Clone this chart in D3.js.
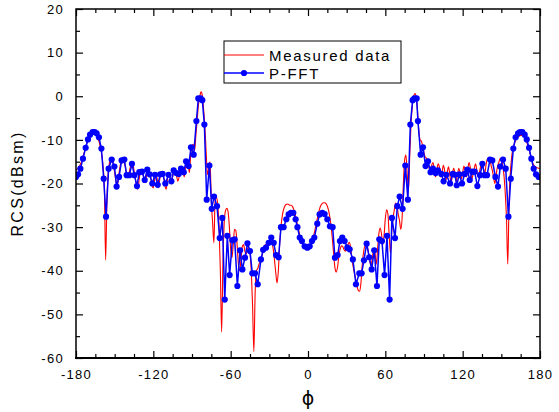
<!DOCTYPE html>
<html>
<head>
<meta charset="utf-8">
<script src="https://cdn.jsdelivr.net/npm/d3@7"></script>
<style>
  body { margin: 0; background: #fff; }
  svg { display: block; font-family: "Liberation Sans", Arial, sans-serif; }
</style>
</head>
<body>
<div id="chart"></div>
<script>
// measured data, 1 degree steps from -180 to 180
var measuredPhi = d3.range(-180, 181, 1);
var measuredRcs = [
  -16.8,-16.7,-16.4,-15.9,-15.2,-14.3,-13.3,-12.2,-11.1,-10.2,
  -9.5,-8.9,-8.5,-8.3,-8.3,-8.5,-8.9,-9.6,-10.5,-11.8,
  -13.5,-16,-21,-37.5,-24,-17.5,-15.2,-14.2,-14.4,-15.8,
  -17.5,-19.5,-20.5,-18.5,-16.4,-15,-14.5,-14.8,-15.8,-17.5,
  -18.6,-17.8,-16.4,-15.2,-15.4,-17,-18.8,-20.5,-21.3,-19,
  -17.2,-16.8,-17.6,-19.5,-19.8,-17.6,-16.5,-17.3,-18.6,-20.5,
  -21,-19,-17.6,-19,-21,-19,-17.4,-17.5,-18.6,-20.5,
  -21.3,-19,-17.5,-18.5,-20,-18.5,-17,-17.2,-18.2,-19.5,
  -18.5,-17,-16.2,-17,-18.5,-16,-14.5,-15.5,-17.5,-13.5,
  -11.4,-11,-12.5,-9,-5.5,-2,-0.2,1.0,0.2,-3,
  -7,-13,-18,-16.5,-15,-24,-29,-33.6,-23,-23.2,
  -25,-30,-40,-54,-38,-29,-26.2,-25.7,-26.5,-30,
  -35,-37,-34,-30.5,-30.8,-34,-38.5,-40,-37.5,-34.5,
  -34,-35.5,-36.2,-35,-34.5,-36,-40,-48,-58.5,-45,
  -40,-39.5,-38.5,-37.8,-36.8,-35.8,-34.6,-34,-34,-34,
  -33.5,-33,-33.5,-35,-37.5,-40.5,-42.8,-40,-34,-30,
  -27.5,-26,-25.2,-24.8,-24.7,-24.8,-25,-25,-25.3,-26,
  -27,-28.3,-29.8,-31,-32.3,-33.2,-33.8,-34.2,-34.3,-34.3,
  -34.2,
  -34.1,-33.8,-33.2,-32.3,-31.2,-29.8,-28.3,-27,-25.8,-25,
  -24.6,-24.4,-24.4,-24.6,-25.2,-26.2,-27.8,-30,-33,-36.5,
  -39.5,-40.3,-39,-36.5,-35,-34.3,-34.5,-35.2,-35.5,-35,
  -34,-33.5,-34.5,-37,-39,-40.5,-42,-43.5,-44.5,-44.7,
  -43,-39,-36,-34.5,-34.3,-34.5,-36,-38,-38.5,-37,
  -35,-36,-38.5,-35,-31.5,-30.2,-31.5,-34,-32,-28,
  -26,-27,-32,-36,-31,-28,-26,-24.5,-25,-27,
  -28.5,-30.5,-28,-20,-14.5,-13.5,-18,-21.5,-13,-6,
  -2,0,0.6,-0.3,-3.5,-8,-10,-10.3,-11.5,-13,
  -14,-14.2,-15,-16.5,-17.5,-15.8,-15.2,-17,-18.5,-16.8,
  -15.5,-16.3,-18.5,-17.5,-15.8,-17,-19.2,-17.5,-16.2,-17.8,
  -20,-18,-16.5,-17.5,-19.5,-18,-16.5,-17.5,-19,-17.5,
  -16,-17,-18.5,-16.5,-15.2,-16.5,-19,-18,-16.5,-15.5,
  -17,-18.5,-17.5,-16,-15.5,-16.5,-18,-16,-14.5,-14.2,
  -14.5,-15.8,-17,-18.5,-20,-18,-16.2,-15.2,-14.3,-14.5,
  -15.8,-18,-22,-28,-38.5,-24,-17.5,-14,-12,-11,
  -10.2,-9.6,-9.3,-9.1,-9,-9,-9.1,-9.4,-10,-10.8,
  -11.7,-12.8,-14,-15,-15.7,-16.1,-16.3,-16.4,-16.5,-16.5
];

// P-FFT samples
var fftPhi = [
  -180,-178.4,-176.6,-174.6,-172.5,-170.7,-169.1,-167.1,-165.5,-164,
  -162.2,-160.3,-158.5,-156.7,-154.7,-152.3,-150.2,-148.5,-146.6,-144.6,
  -142.5,-140.7,-138.6,-136.6,-134.7,-132.7,-130.9,-128.8,-126.7,-124.7,
  -122.9,-120.8,-118.7,-116.6,-114.6,-112.8,-110.7,-108.2,
  -106,-104.2,-102.1,-100.3,-98.5,-96.4,-94.6,-92.6,-90.8,-88.7,
  -86.6,-85.1,-83.3,-82,-80.4,-78.6,-76.5,-74.7,-72.9,-70.6,
  -68.5,-66.5,-64.6,-62.6,-60.8,-58.7,-56.9,-54.8,-52.7,-50.9,
  -48.9,-47,-45,-43.2,-41.1,-39,-36.5,-34.8,
  -32.6,-30.5,-28.5,-26.6,-24.8,-22.8,-21,-18.9,-16.8,-15,
  -13.2,-11.4,-9.6,-8.2,-6.4,-4.7,-2.6,-0.5,
  1.3,3.1,4.9,7.2,9,11.1,12.9,15,17,19.1,
  20.9,23,24.8,26.6,28.4,30.5,32.3,34.8,37.2,
  39.8,41.6,43.4,45.5,47.5,49.4,51.4,53.5,55.3,57.4,
  59.4,61.3,63.3,65.1,67.5,69.3,71.1,73.4,75.5,77.5,
  79.4,81.2,82.5,84.3,85.3,87.4,89.2,91.2,93.1,95.1,
  96.9,99,100.8,103.4,105.2,107.3,110.2,112.3,114,115.4,
  117.4,119.5,121.6,123.6,125.5,127.3,129.3,131.4,133.5,135.3,
  137.1,138.9,141.2,143,145.4,147.4,149.2,151.3,153.4,155.5,
  157.3,159.3,161.1,163,164.5,166.3,168.1,169.7,171.5,173.3,
  175.1,176.9,179
];
var fftRcs = [
  -18.5,-17.9,-16.6,-14.3,-11.8,-9.9,-8.8,-8.2,-8.2,-8.5,
  -9.4,-12,-18.9,-27.6,-16.6,-14.5,-16.1,-20.7,-18.5,-14.7,
  -14.5,-18.1,-18.1,-15.5,-18.1,-20.6,-17.4,-17.3,-19.2,-16.8,
  -17.9,-20,-18,-20.3,-17.9,-17.8,-20,-18,
  -19.5,-17,-17.6,-17.8,-16.6,-17.4,-14.9,-16,-11.7,-13.4,
  -5.7,-0.5,-0.5,-0.9,-6.5,-23.7,-15.9,-25.8,-23,-25.2,
  -32.5,-27.9,-46.6,-32,-41,-33,-32.8,-43.5,-35.3,-39.7,
  -37,-33.7,-35.5,-40.6,-40.6,-43.1,-37.4,-35.2,
  -34.7,-33.6,-32.4,-33.6,-36.4,-36.9,-30,-30,-28.2,-27.1,
  -26.7,-26.7,-28.2,-30,-32.4,-33.2,-34.4,-34.7,
  -34.4,-33.2,-32.4,-29.2,-27.1,-26.7,-27,-28.2,-29.8,-30,
  -37,-36.4,-33.2,-32.4,-33.2,-34.7,-35.1,-37.4,-43.1,
  -40.6,-40.6,-37.6,-33.8,-36.9,-39.7,-35.3,-43.5,-32.8,-33.2,
  -41,-32,-46.6,-27.9,-32.5,-25.2,-23,-25.8,-15.9,-23.7,
  -6.5,-0.9,-0.5,-0.5,-5.7,-13.4,-11.7,-16,-14.9,-17.4,
  -16.6,-17.6,-17,-17.8,-19.5,-18,-20,-17.8,-18,-20.4,
  -17.9,-20,-17.8,-16.8,-19.2,-17.3,-17.3,-20.6,-18.1,-15.5,
  -18.1,-18.1,-14.5,-14.7,-18.5,-20.7,-16.1,-14.5,-16.6,-27.6,
  -18.9,-12,-9.4,-8.5,-8.2,-8.2,-8.8,-9.9,-11.8,-14.3,
  -16.6,-17.9,-18.5
];

var xTicks = [-180, -120, -60, 0, 60, 120, 180];
var yTicks = [20, 10, 0, -10, -20, -30, -40, -50, -60];
var legendNames = ["Measured data", "P-FFT"];

(function() {
  var W = 559, H = 412;
  var mL = 76, mR = 540, mT = 9, mB = 358;
  var font = '"Liberation Sans", Arial, sans-serif';

  var svg = d3.select('#chart').append('svg')
              .attr('width', W)
              .attr('height', H);

  var x = d3.scaleLinear().domain([-180, 180]).range([mL, mR]);
  var y = d3.scaleLinear().domain([-60, 20]).range([mB, mT]);

  var xMinor = d3.range(-180, 181, 15).filter(function(d){ return d % 60 != 0; });
  var yMinor = d3.range(-55, 20, 10);
  var plain = function(d){ return String(d); };

  function styleAxis(g){
    g.select('.domain').remove();
    g.selectAll('line').attr('stroke', '#000').attr('stroke-width', 1.2);
    g.selectAll('text').attr('font-size', 13).attr('fill', '#000')
     .attr('letter-spacing', '1.3px').attr('font-family', font);
  }

  svg.append('clipPath').attr('id', 'clip')
     .append('rect')
     .attr('x', mL).attr('y', mT)
     .attr('width', mR - mL).attr('height', mB - mT);

  var plot = svg.append('g').attr('clip-path', 'url(#clip)');

  var measured = d3.zip(measuredPhi, measuredRcs);
  var fft = d3.zip(fftPhi, fftRcs);

  var redLine = d3.line()
                  .x(function(d){ return x(d[0]); })
                  .y(function(d){ return y(d[1]); })
                  .curve(d3.curveMonotoneX);
  var blueLine = d3.line()
                   .x(function(d){ return x(d[0]); })
                   .y(function(d){ return y(d[1]); });

  plot.append('path')
      .datum(measured)
      .attr('fill', 'none')
      .attr('stroke', '#ff0000')
      .attr('stroke-width', 1.1)
      .attr('d', redLine);

  plot.append('path')
      .datum(fft)
      .attr('fill', 'none')
      .attr('stroke', '#0000ff')
      .attr('stroke-width', 1.5)
      .attr('d', blueLine);

  plot.selectAll('circle.fft')
      .data(fft)
      .enter().append('circle')
      .attr('class', 'fft')
      .attr('cx', function(d){ return x(d[0]); })
      .attr('cy', function(d){ return y(d[1]); })
      .attr('r', 3.1)
      .attr('fill', '#0000ff');

  // axes, ticks pointing inside
  svg.append('g').attr('transform', 'translate(0,' + mB + ')')
     .call(d3.axisBottom(x).tickValues(xTicks).tickSize(-7).tickPadding(12).tickFormat(plain))
     .call(styleAxis);
  svg.append('g').attr('transform', 'translate(0,' + mB + ')')
     .call(d3.axisBottom(x).tickValues(xMinor).tickSize(-4).tickFormat(''))
     .call(styleAxis);
  svg.append('g').attr('transform', 'translate(0,' + mT + ')')
     .call(d3.axisTop(x).tickValues(xTicks).tickSize(-7).tickFormat(''))
     .call(styleAxis);
  svg.append('g').attr('transform', 'translate(0,' + mT + ')')
     .call(d3.axisTop(x).tickValues(xMinor).tickSize(-4).tickFormat(''))
     .call(styleAxis);
  svg.append('g').attr('transform', 'translate(' + mL + ',0)')
     .call(d3.axisLeft(y).tickValues(yTicks).tickSize(-7).tickPadding(12).tickFormat(plain))
     .call(styleAxis);
  svg.append('g').attr('transform', 'translate(' + mL + ',0)')
     .call(d3.axisLeft(y).tickValues(yMinor).tickSize(-4).tickFormat(''))
     .call(styleAxis);
  svg.append('g').attr('transform', 'translate(' + mR + ',0)')
     .call(d3.axisRight(y).tickValues(yTicks).tickSize(-7).tickFormat(''))
     .call(styleAxis);
  svg.append('g').attr('transform', 'translate(' + mR + ',0)')
     .call(d3.axisRight(y).tickValues(yMinor).tickSize(-4).tickFormat(''))
     .call(styleAxis);

  // frame
  svg.append('rect')
     .attr('x', mL).attr('y', mT)
     .attr('width', mR - mL).attr('height', mB - mT)
     .attr('fill', 'none')
     .attr('stroke', '#000')
     .attr('stroke-width', 1.5);
  svg.append('line')
     .attr('x1', mL - 1).attr('x2', mR + 1)
     .attr('y1', mB).attr('y2', mB)
     .attr('stroke', '#000').attr('stroke-width', 2.2);

  // axis titles
  svg.append('text')
     .attr('transform', 'translate(23,' + ((mT + mB) / 2) + ') rotate(-90)')
     .attr('text-anchor', 'middle')
     .attr('font-size', 16)
     .attr('letter-spacing', '2.3px')
     .text('RCS(dBsm)');

  svg.append('text')
     .attr('x', (mL + mR) / 2)
     .attr('y', 405)
     .attr('text-anchor', 'middle')
     .attr('font-size', 19)
     .attr('font-family', '"DejaVu Sans", sans-serif')
     .text('\u03d5');

  // legend
  var legend = svg.append('g').attr('transform', 'translate(224,41)');
  legend.append('rect')
        .attr('width', 177).attr('height', 42)
        .attr('fill', '#fff')
        .attr('stroke', '#000')
        .attr('stroke-width', 1);
  legend.append('line')
        .attr('x1', 0).attr('x2', 40).attr('y1', 14).attr('y2', 14)
        .attr('stroke', '#ff0000').attr('stroke-width', 1.1);
  legend.append('line')
        .attr('x1', 0).attr('x2', 40).attr('y1', 32).attr('y2', 32)
        .attr('stroke', '#0000ff').attr('stroke-width', 1.5);
  legend.append('circle')
        .attr('cx', 20).attr('cy', 32).attr('r', 3.1)
        .attr('fill', '#0000ff');
  legend.selectAll('text.lab')
        .data(legendNames)
        .enter().append('text')
        .attr('class', 'lab')
        .attr('x', 45)
        .attr('y', function(d, i){ return i == 0 ? 19.5 : 37.5; })
        .attr('font-size', 15)
        .attr('letter-spacing', '1.7px')
        .text(function(d){ return d; });
})();
</script>
</body>
</html>
